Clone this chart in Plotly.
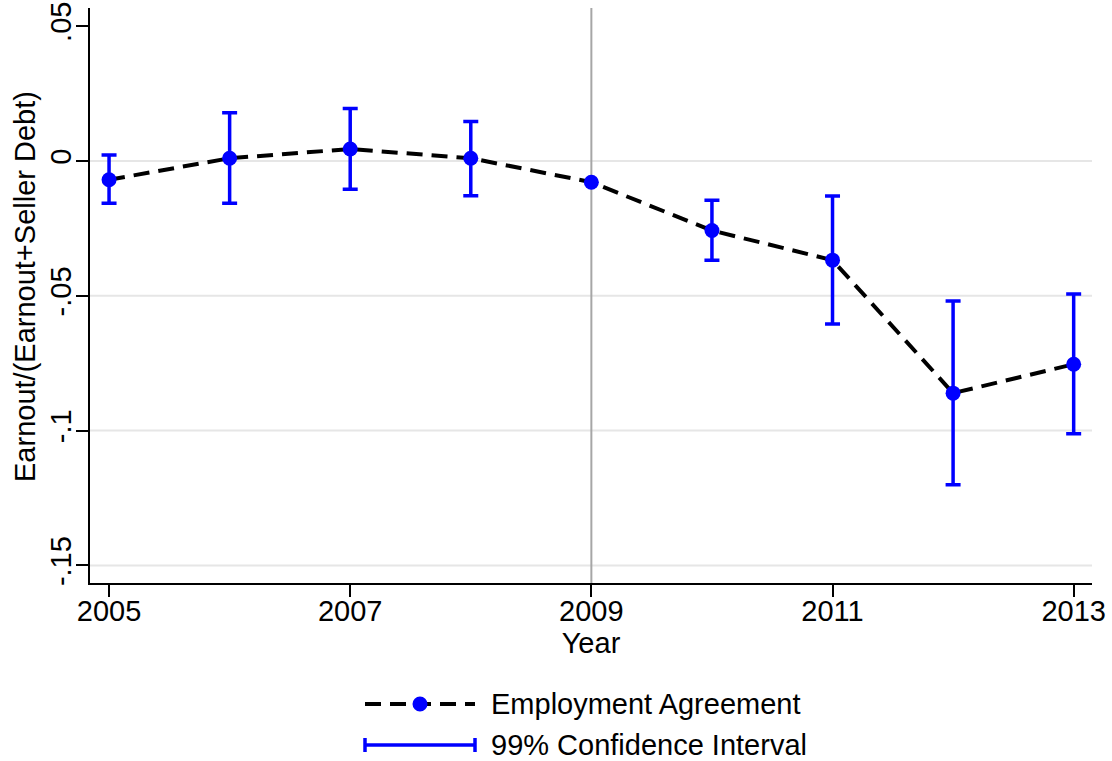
import plotly.graph_objects as go

# Year-by-year coefficients with 99% confidence bounds
years = [2005, 2006, 2007, 2008, 2009, 2010, 2011, 2012, 2013]
coef = [-0.0070, 0.0010, 0.0044, 0.0010, -0.0079, -0.0258, -0.0368, -0.0861, -0.0754]
ci_upper = [0.0022, 0.0179, 0.0194, 0.0146, None, -0.0146, -0.0130, -0.0519, -0.0493]
ci_lower = [-0.0157, -0.0157, -0.0105, -0.0129, None, -0.0368, -0.0605, -0.1201, -0.1012]

x_ticks = [2005, 2007, 2009, 2011, 2013]
y_ticks = [0.05, 0.0, -0.05, -0.1, -0.15]
y_tick_labels = [".05", "0", "-.05", "-.1", "-.15"]
grid_values = [0.0, -0.05, -0.1, -0.15]
event_year = 2009

FONT = "Liberation Sans, Arial, sans-serif"
FS = 29
BLUE = "#0000ff"
DASH = "16px,9px"
W, H = 1112, 761
M_L, M_R, M_T, M_B = 90, 20, 8, 178
PW, PH = W - M_L - M_R, H - M_T - M_B


def px_x(px):
    return (px - M_L) / PW


def px_y(py):
    return (H - M_B - py) / PH


# confidence interval bars (years that have an estimate)
ci_x, ci_y, ci_plus, ci_minus = [], [], [], []
for yr, c, hi, lo in zip(years, coef, ci_upper, ci_lower):
    if hi is None:
        continue
    ci_x.append(yr)
    ci_y.append(c)
    ci_plus.append(hi - c)
    ci_minus.append(c - lo)

fig = go.Figure()

fig.add_trace(go.Scatter(
    x=ci_x, y=ci_y, mode="markers",
    marker=dict(size=1, opacity=0),
    error_y=dict(type="data", symmetric=False, array=ci_plus, arrayminus=ci_minus,
                 color=BLUE, thickness=3.5, width=7.5),
    showlegend=False, hoverinfo="skip",
))

fig.add_trace(go.Scatter(
    x=years, y=coef, mode="lines+markers",
    line=dict(color="black", width=4, dash=DASH),
    marker=dict(color=BLUE, size=15, line=dict(width=0)),
    showlegend=False,
))

shapes = []
for g in grid_values:
    shapes.append(dict(type="line", xref="paper", x0=0, x1=1, yref="y", y0=g, y1=g,
                       line=dict(color="#e6e6e6", width=2), layer="below"))
shapes.append(dict(type="line", xref="x", x0=event_year, x1=event_year, yref="paper", y0=0, y1=1,
                   line=dict(color="#a6a6a6", width=2), layer="below"))

# legend rows
row1, row2 = px_y(704), px_y(745)
sx0, sx1 = px_x(365), px_x(475)
shapes.append(dict(type="line", xref="paper", yref="paper", x0=sx0, x1=sx1, y0=row1, y1=row1,
                   line=dict(color="black", width=4, dash=DASH)))
shapes.append(dict(type="circle", xref="paper", yref="paper", xsizemode="pixel", ysizemode="pixel",
                   xanchor=px_x(420), yanchor=row1, x0=-7.5, x1=7.5, y0=-7.5, y1=7.5,
                   fillcolor=BLUE, line=dict(width=0)))
shapes.append(dict(type="line", xref="paper", yref="paper", x0=sx0, x1=sx1, y0=row2, y1=row2,
                   line=dict(color=BLUE, width=3.5)))
for sx in (sx0, sx1):
    shapes.append(dict(type="line", xref="paper", yref="paper", xsizemode="pixel", ysizemode="pixel",
                       xanchor=sx, yanchor=row2, x0=0, x1=0, y0=-7, y1=7,
                       line=dict(color=BLUE, width=3.5)))

annotations = [
    dict(text="Employment Agreement", xref="paper", yref="paper", x=px_x(489), y=row1,
         xanchor="left", yanchor="middle", showarrow=False, font=dict(size=FS, color="black")),
    dict(text="99% Confidence Interval", xref="paper", yref="paper", x=px_x(489), y=row2,
         xanchor="left", yanchor="middle", showarrow=False, font=dict(size=FS, color="black")),
    # y-axis title
    dict(text="Earnout/(Earnout+Seller Debt)", xref="paper", yref="paper", x=px_x(25), y=px_y(287),
         xanchor="center", yanchor="middle", textangle=-90, showarrow=False,
         font=dict(size=FS, color="black")),
]

fig.update_layout(
    width=W, height=H,
    margin=dict(l=M_L, r=M_R, t=M_T, b=M_B, autoexpand=False),
    paper_bgcolor="white", plot_bgcolor="white",
    font=dict(family=FONT, size=FS, color="black"),
    showlegend=False,
    shapes=shapes, annotations=annotations,
    xaxis=dict(
        range=[2004.842, 2013.152], tickvals=x_ticks, ticks="outside", ticklen=12,
        tickwidth=1.5, tickcolor="black", showline=True, linecolor="black", linewidth=2,
        showgrid=False, zeroline=False, tickfont=dict(size=FS), automargin=False,
        ticklabelstandoff=-11,
        title=dict(text="Year", font=dict(size=FS), standoff=0),
    ),
    yaxis=dict(
        range=[-0.1565, 0.0567], tickvals=y_ticks, ticktext=y_tick_labels, tickangle=-90,
        ticks="outside", ticklen=12, tickwidth=1.5, tickcolor="black",
        showline=True, linecolor="black", linewidth=2, showgrid=False, zeroline=False,
        tickfont=dict(size=FS), ticklabelstandoff=-7, automargin=False,
    ),
)

fig.write_html("out.html")
